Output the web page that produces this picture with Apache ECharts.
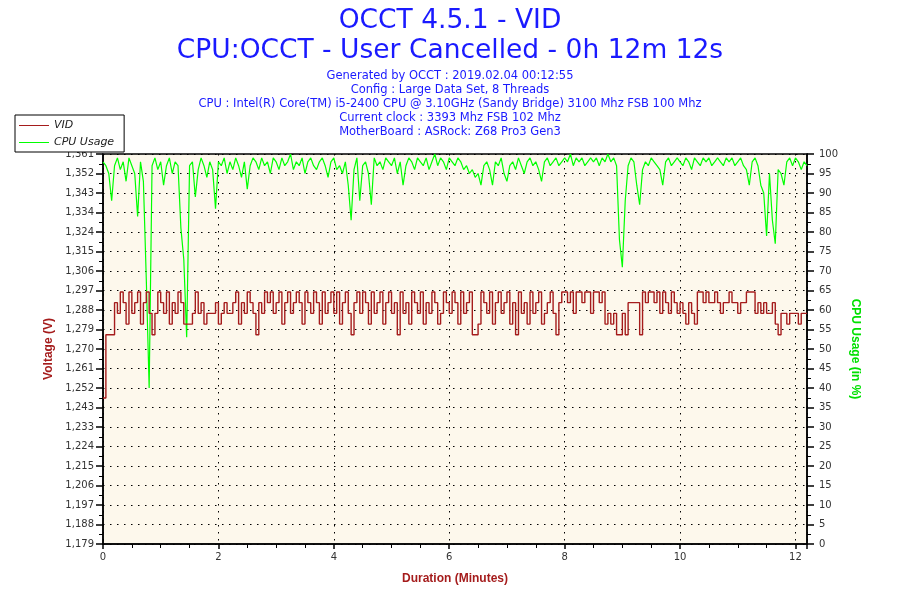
<!DOCTYPE html>
<html>
<head>
<meta charset="utf-8">
<script src="https://cdn.jsdelivr.net/npm/echarts@6/dist/echarts.min.js"></script>
<style>
html,body{margin:0;padding:0;background:#fff;}
#chart{width:900px;height:600px;}
</style>
</head>
<body>
<div id="chart"></div>
<script>
// ---- data ----
var sampleSeconds = 3; // one sample every 3 s, 0 .. 732 s (0h 12m 12s)
var titleLines = ['OCCT 4.5.1 - VID', 'CPU:OCCT - User Cancelled - 0h 12m 12s'];
var infoLines = [
  'Generated by OCCT : 2019.02.04 00:12:55',
  'Config : Large Data Set, 8 Threads',
  'CPU : Intel(R) Core(TM) i5-2400 CPU @ 3.10GHz (Sandy Bridge) 3100 Mhz FSB 100 Mhz',
  'Current clock : 3393 Mhz FSB 102 Mhz',
  'MotherBoard : ASRock: Z68 Pro3 Gen3'
];
var voltTickLabels = ['1,179','1,188','1,197','1,206','1,215','1,224','1,233','1,243','1,252','1,261',
  '1,270','1,279','1,288','1,297','1,306','1,315','1,324','1,334','1,343','1,352','1,361'];
var voltMin = 1.17887, voltStep = 0.0091;
var vid = [
  1.247,1.2765,1.2765,1.2765,1.2915,1.2865,1.2965,1.2915,1.2815,1.2965,
  1.2865,1.2915,1.2965,1.2815,1.2915,1.2965,1.2865,1.2765,1.2865,1.2965,
  1.2915,1.2865,1.2965,1.2815,1.2915,1.2865,1.2965,1.2915,1.2815,1.2815,
  1.2815,1.2865,1.2965,1.2865,1.2915,1.2815,1.2865,1.2865,1.2865,1.2915,
  1.2815,1.2865,1.2915,1.2865,1.2865,1.2915,1.2965,1.2815,1.2915,1.2865,
  1.2965,1.2915,1.2865,1.2765,1.2915,1.2865,1.2965,1.2915,1.2965,1.2865,
  1.2915,1.2965,1.2815,1.2915,1.2965,1.2865,1.2915,1.2965,1.2915,1.2815,
  1.2965,1.2915,1.2865,1.2965,1.2915,1.2815,1.2965,1.2865,1.2915,1.2965,
  1.2865,1.2965,1.2815,1.2915,1.2965,1.2865,1.2765,1.2915,1.2965,1.2865,
  1.2965,1.2915,1.2815,1.2965,1.2865,1.2915,1.2965,1.2815,1.2915,1.2965,
  1.2865,1.2915,1.2765,1.2965,1.2865,1.2915,1.2815,1.2965,1.2915,1.2865,
  1.2965,1.2815,1.2915,1.2865,1.2965,1.2915,1.2815,1.2865,1.2965,1.2915,
  1.2865,1.2965,1.2915,1.2815,1.2965,1.2865,1.2915,1.2965,1.2765,1.2765,
  1.2815,1.2965,1.2915,1.2865,1.2965,1.2815,1.2915,1.2965,1.2865,1.2915,
  1.2965,1.2815,1.2915,1.2765,1.2965,1.2865,1.2915,1.2815,1.2965,1.2865,
  1.2915,1.2965,1.2815,1.2865,1.2915,1.2965,1.2865,1.2765,1.2915,1.2965,
  1.2965,1.2915,1.2965,1.2865,1.2965,1.2965,1.2915,1.2965,1.2965,1.2865,
  1.2965,1.2965,1.2915,1.2965,1.2815,1.2865,1.2815,1.2865,1.2765,1.2765,
  1.2865,1.2765,1.2915,1.2915,1.2915,1.2915,1.2765,1.2965,1.2915,1.2965,
  1.2965,1.2915,1.2965,1.2865,1.2965,1.2915,1.2865,1.2965,1.2915,1.2865,
  1.2915,1.2865,1.2815,1.2915,1.2865,1.2815,1.2965,1.2965,1.2915,1.2965,
  1.2915,1.2915,1.2965,1.2915,1.2865,1.2915,1.2915,1.2965,1.2915,1.2915,
  1.2865,1.2915,1.2915,1.2965,1.2965,1.2965,1.2865,1.2915,1.2865,1.2915,
  1.2865,1.2865,1.2915,1.2815,1.2765,1.2865,1.2865,1.2815,1.2865,1.2865,
  1.2865,1.2815,1.2865,1.2865,1.2865
];
var cpuUsage = [
  98,97,95,88,97,99,96,98,93,99,
  97,95,84,98,93,68,40,97,99,96,
  98,92,97,99,95,98,97,81,73,53,
  97,98,89,96,99,97,94,98,96,86,
  98,97,99,95,98,96,99,97,94,98,
  91,97,99,98,96,99,97,98,95,99,
  98,96,99,97,98,100,96,98,97,99,
  95,98,99,97,96,98,99,97,94,98,
  99,96,97,95,98,92,83,96,99,88,
  97,98,95,87,99,97,98,96,99,98,
  97,99,95,98,92,97,99,98,96,99,
  98,97,99,96,98,100,97,99,98,96,
  99,98,97,99,98,96,97,95,96,94,
  95,92,97,98,96,92,98,97,99,95,
  93,97,98,96,99,97,95,98,99,97,
  98,96,93,98,99,97,98,99,97,98,
  99,98,100,97,99,98,99,97,98,99,
  98,99,97,99,98,100,98,99,97,78,
  71,88,97,99,98,92,87,96,98,97,
  99,98,97,96,92,98,99,97,98,99,
  98,97,99,98,96,99,98,97,99,98,
  99,97,98,99,98,97,99,98,99,97,
  98,99,97,96,92,98,99,97,92,90,
  79,95,83,77,96,95,92,98,99,97,
  99,98,96,98,97
];

// ---- build ----
function pairs(arr) {
  return arr.map(function (v, i) { return [i * sampleSeconds / 60, v]; });
}
var chart = echarts.init(document.getElementById('chart'));
var blue = '#1a1aff';
var red = '#a51c1c';
var green = '#00ff00';
var font = 'DejaVu Sans';
var dotted = { color: '#000', width: 1, type: [1.5, 5.5] };

var graphics = [];
titleLines.forEach(function (t, k) {
  graphics.push({ type: 'text', left: 'center', top: 8 + k * 30,
    style: { text: t, fill: blue, font: '26.5px "DejaVu Sans"' } });
});
infoLines.forEach(function (t, k) {
  graphics.push({ type: 'text', left: 'center', top: 70 + k * 14,
    style: { text: t, fill: blue, font: '11.5px "DejaVu Sans"' } });
});

chart.setOption({
  animation: false,
  backgroundColor: '#ffffff',
  graphic: graphics,
  legend: {
    orient: 'vertical', left: 15, top: 115,
    backgroundColor: '#fff', borderColor: '#000', borderWidth: 1,
    padding: [5, 10, 4, 4], itemGap: 6, itemWidth: 30, itemHeight: 1,
    icon: 'rect',
    textStyle: { fontFamily: font, fontSize: 11, fontStyle: 'italic', color: '#222' },
    data: ['VID', 'CPU Usage']
  },
  grid: {
    left: 103, right: 93, top: 154, bottom: 56,
    show: true, backgroundColor: '#fdf8ec', borderColor: '#000', borderWidth: 1.5
  },
  xAxis: {
    type: 'value', min: 0, max: 12.2, interval: 2,
    name: 'Duration (Minutes)', nameLocation: 'middle', nameGap: 29,
    nameTextStyle: { color: red, fontWeight: 'bold', fontSize: 12, fontFamily: 'Liberation Sans' },
    axisLine: { lineStyle: { color: '#000', width: 1.5 } },
    axisTick: { length: 5, lineStyle: { color: '#000', width: 1.5 } },
    minorTick: { show: true, splitNumber: 4, length: 4, lineStyle: { color: '#000' } },
    axisLabel: { color: '#333', fontFamily: font, fontSize: 10, margin: 8, showMaxLabel: false },
    splitLine: { show: true, lineStyle: dotted }
  },
  yAxis: [{
    type: 'value', min: voltMin, max: voltMin + 20 * voltStep, interval: voltStep, position: 'left',
    name: 'Voltage (V)', nameLocation: 'middle', nameGap: 45,
    nameTextStyle: { color: red, fontWeight: 'bold', fontSize: 12, fontFamily: 'Liberation Sans' },
    axisLine: { show: true, lineStyle: { color: '#000', width: 1.5 } },
    axisTick: { length: 7, lineStyle: { color: '#000', width: 1.5 } },
    minorTick: { show: true, splitNumber: 2, length: 4, lineStyle: { color: '#000' } },
    axisLabel: { color: '#333', fontFamily: font, fontSize: 10, margin: 9, interval: 0,
      formatter: function (v) { return voltTickLabels[Math.round((v - voltMin) / voltStep)]; } },
    splitLine: { show: true, lineStyle: dotted }
  }, {
    type: 'value', min: 0, max: 100, interval: 5, position: 'right',
    name: 'CPU Usage (in %)', nameLocation: 'middle', nameGap: 33, nameRotate: -90,
    nameTextStyle: { color: '#00e000', fontWeight: 'bold', fontSize: 12, fontFamily: 'Liberation Sans' },
    axisLine: { show: true, lineStyle: { color: '#000', width: 1.5 } },
    axisTick: { length: 7, lineStyle: { color: '#000', width: 1.5 } },
    minorTick: { show: true, splitNumber: 2, length: 4, lineStyle: { color: '#000' } },
    axisLabel: { color: '#333', fontFamily: font, fontSize: 10, margin: 12, interval: 0 },
    splitLine: { show: false }
  }],
  series: [{
    name: 'VID', type: 'line', yAxisIndex: 0, data: pairs(vid),
    step: 'end', showSymbol: false, symbol: 'none',
    lineStyle: { color: red, width: 1.4 }, itemStyle: { color: red }, z: 3
  }, {
    name: 'CPU Usage', type: 'line', yAxisIndex: 1, data: pairs(cpuUsage),
    showSymbol: false, symbol: 'none',
    lineStyle: { color: green, width: 1.2 }, itemStyle: { color: green }, z: 2
  }]
});
</script>
</body>
</html>
